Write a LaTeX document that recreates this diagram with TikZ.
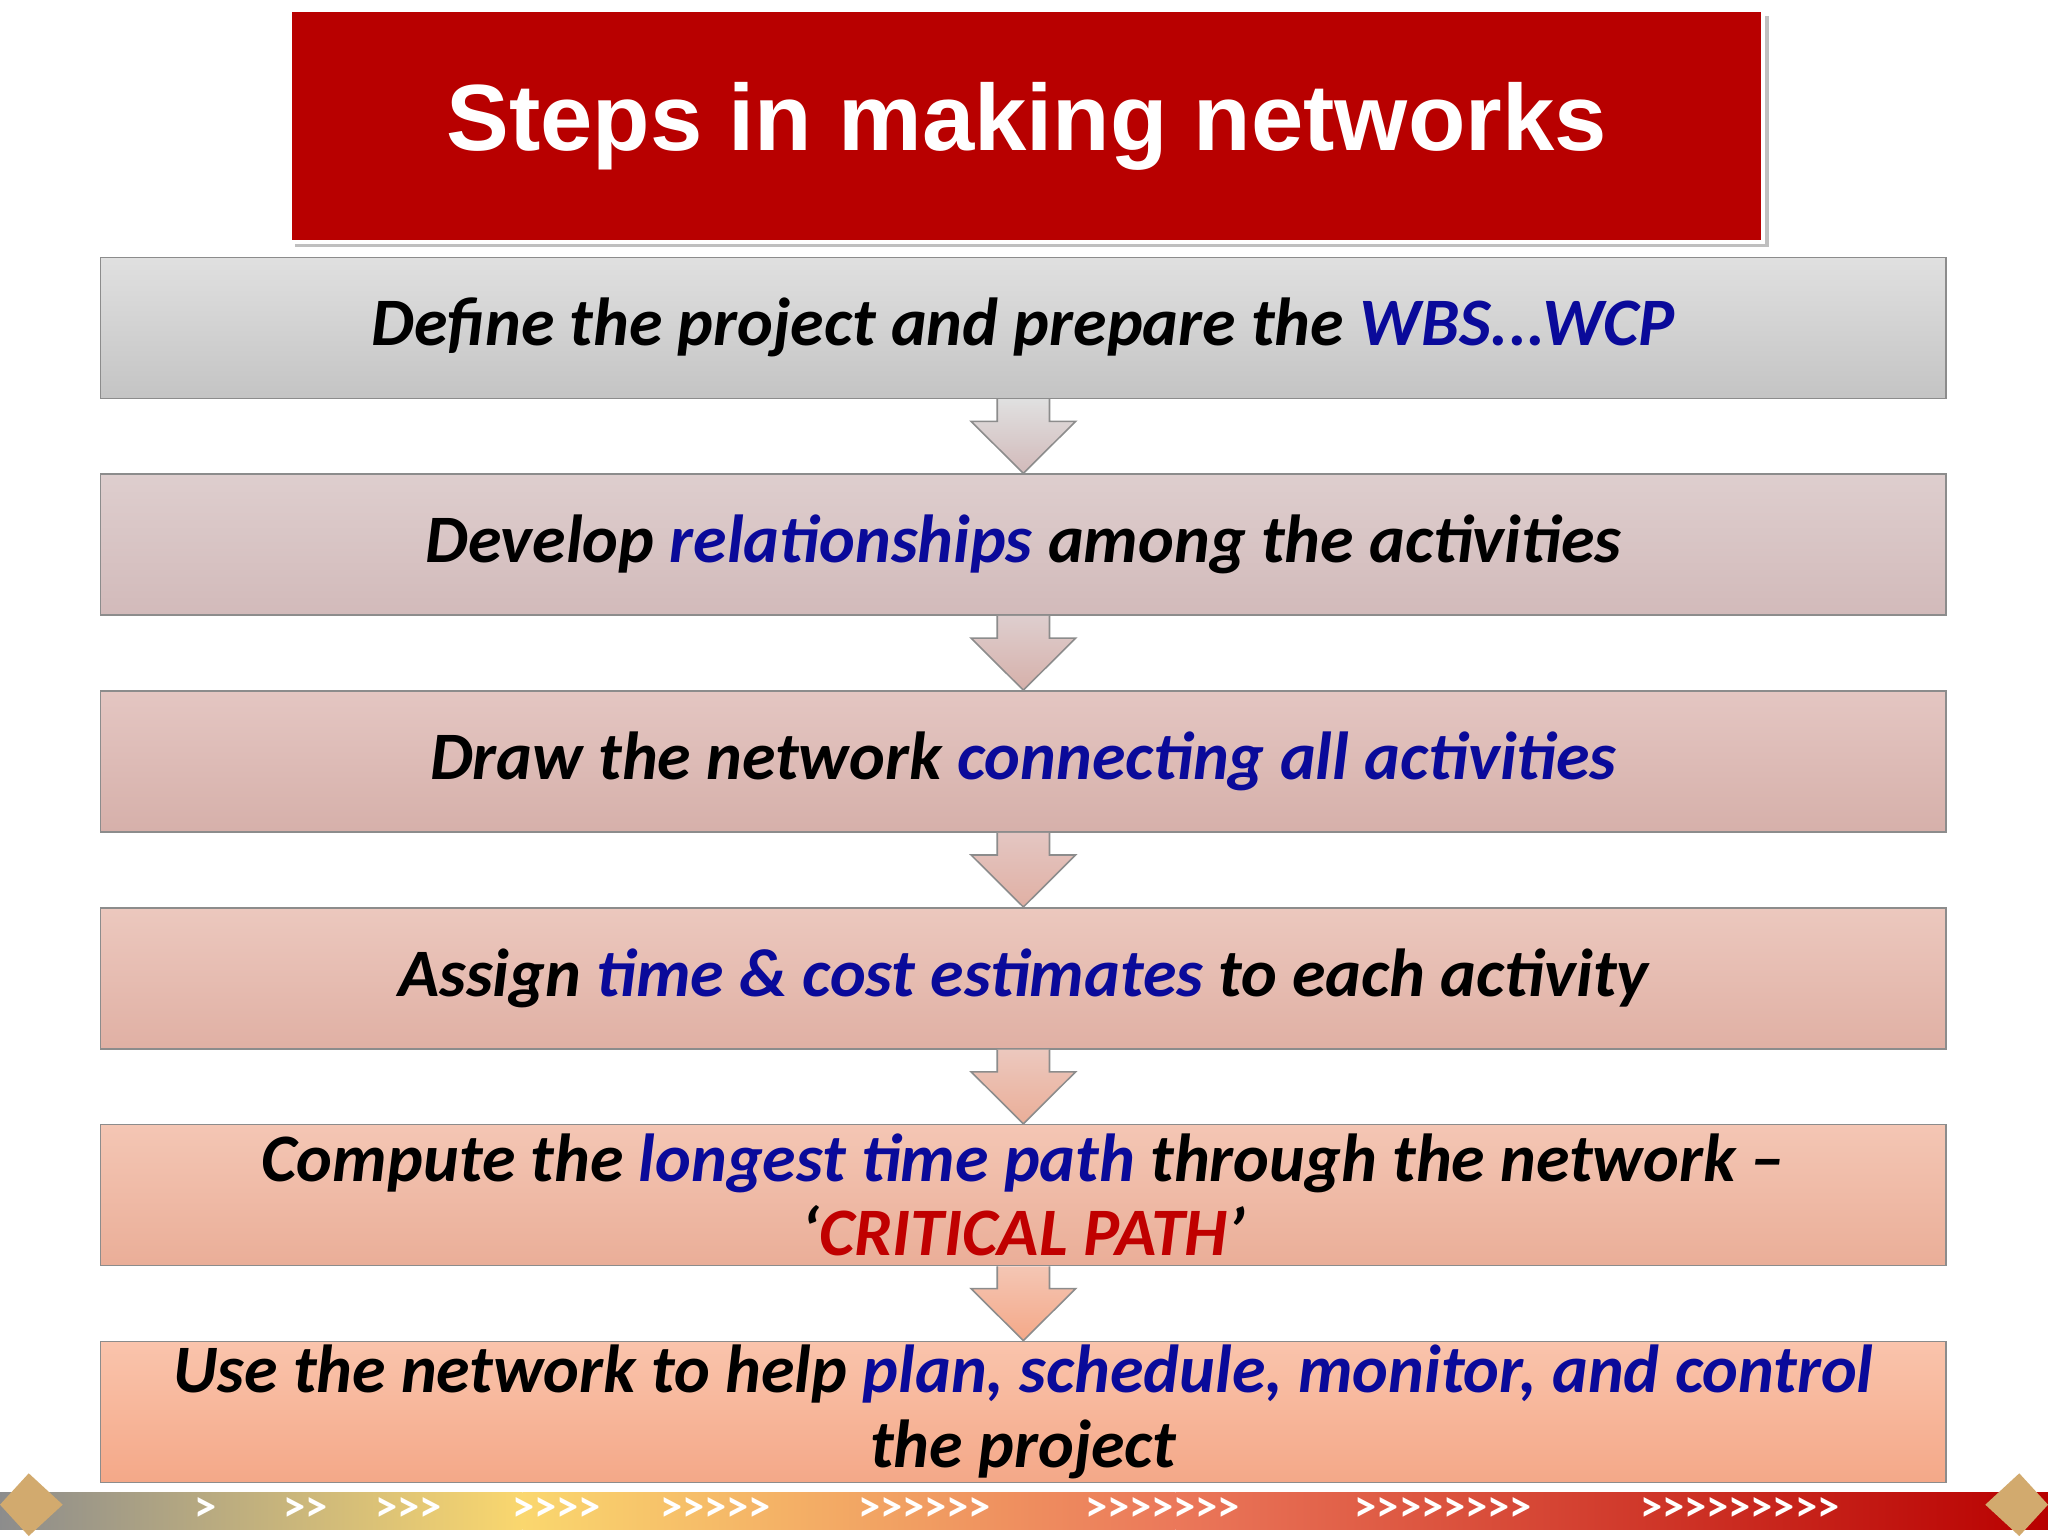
\documentclass[tikz,border=0pt]{standalone}
\usepackage{fontspec}
\setmainfont{Carlito}
\newfontfamily\titlefont{Liberation Sans}
\usetikzlibrary{calc}
\definecolor{tred}{HTML}{B80000}
\definecolor{hblue}{HTML}{0A0A9A}
\definecolor{hred}{HTML}{C00000}
\definecolor{t1}{HTML}{E0E0E0}\definecolor{u1}{HTML}{C4C4C4}
\definecolor{t2}{HTML}{DECECE}\definecolor{u2}{HTML}{D2BABA}
\definecolor{t3}{HTML}{E4C6C2}\definecolor{u3}{HTML}{D6B0AA}
\definecolor{t4}{HTML}{ECC8BE}\definecolor{u4}{HTML}{E0B0A4}
\definecolor{t5}{HTML}{F4C6B4}\definecolor{u5}{HTML}{EAAE98}
\definecolor{t6}{HTML}{FAC4AC}\definecolor{u6}{HTML}{F4A888}
\definecolor{gold}{HTML}{FAD76E}
\definecolor{salm}{HTML}{EB785A}
\definecolor{gem}{HTML}{D2AA6E}
\tikzset{
  stepbox/.style={draw=black!45,line width=1.2pt,minimum width=1413pt,minimum height=108pt,
    align=center,font=\bfseries\itshape\fontsize{52}{57}\selectfont,inner sep=0pt},
  downarrow/.style={draw=black!45,line width=1.2pt}
}
\begin{document}
\begin{tikzpicture}[x=1pt,y=-1pt]
\useasboundingbox (0,0) rectangle (1568,1176);
\fill[white] (0,0) rectangle (1568,1176);
% title
\fill[black!25] (226,12) rectangle (1354,189);
\node[draw=white,line width=3pt,fill=tred,minimum width=1128pt,minimum height=177pt,inner sep=0pt,
  font=\titlefont\bfseries\fontsize{72}{80}\selectfont,text=white] (title) at (786,96.5) {Steps in making networks};
% boxes
\node[stepbox,top color=t1,bottom color=u1] (b1) at (783.5,251) {Define the project and prepare the \textcolor{hblue}{WBS...WCP}};
\node[stepbox,top color=t2,bottom color=u2] (b2) at (783.5,417) {Develop \textcolor{hblue}{relationships} among the activities};
\node[stepbox,top color=t3,bottom color=u3] (b3) at (783.5,583) {Draw the network \textcolor{hblue}{connecting all activities}};
\node[stepbox,top color=t4,bottom color=u4] (b4) at (783.5,749) {Assign \textcolor{hblue}{time \& cost estimates} to each activity};
\node[stepbox,top color=t5,bottom color=u5] (b5) at (783.5,915) {Compute the \textcolor{hblue}{longest time path} through the network --\\‘\textcolor{hred}{CRITICAL PATH}’};
\node[stepbox,top color=t6,bottom color=u6] (b6) at (783.5,1081) {Use the network to help \textcolor{hblue}{plan, schedule, monitor, and control}\\the project};
% arrows
\foreach \a/\b/\c/\d in {b1/b2/t1/u2,b2/b3/t2/u3,b3/b4/t3/u4,b4/b5/t4/u5,b5/b6/t5/u6}{
  \draw[downarrow,top color=\c,bottom color=\d]
    ($(\a.south)+(-20,0)$) -- ($(\a.south)+(-20,17)$) -- ($(\a.south)+(-40,17)$) --
    (\b.north) -- ($(\a.south)+(40,17)$) -- ($(\a.south)+(20,17)$) -- ($(\a.south)+(20,0)$);
}
% bottom bar
\shade[left color=black!45,right color=gold] (0,1143) rectangle (400,1171);
\shade[left color=gold,right color=salm] (400,1143) rectangle (900,1171);
\shade[left color=salm,right color=tred] (900,1143) rectangle (1568,1171);
\foreach \x/\s in {157/>,234/>{}>,313/>{}>{}>,426/>{}>{}>{}>,548/>{}>{}>{}>{}>,708/>{}>{}>{}>{}>{}>,890/>{}>{}>{}>{}>{}>{}>,1105/>{}>{}>{}>{}>{}>{}>{}>,1332/>{}>{}>{}>{}>{}>{}>{}>{}>}
  \node[text=white,font=\bfseries\fontsize{34}{34}\selectfont,inner sep=0pt] (bar\x) at (\x,1156) {\s};
\fill[gem] (22,1128) -- (48,1152) -- (22,1176) -- (0,1152) -- cycle;
\fill[gem] (1546,1128) -- (1568,1152) -- (1546,1176) -- (1520,1152) -- cycle;
\end{tikzpicture}
\end{document}
